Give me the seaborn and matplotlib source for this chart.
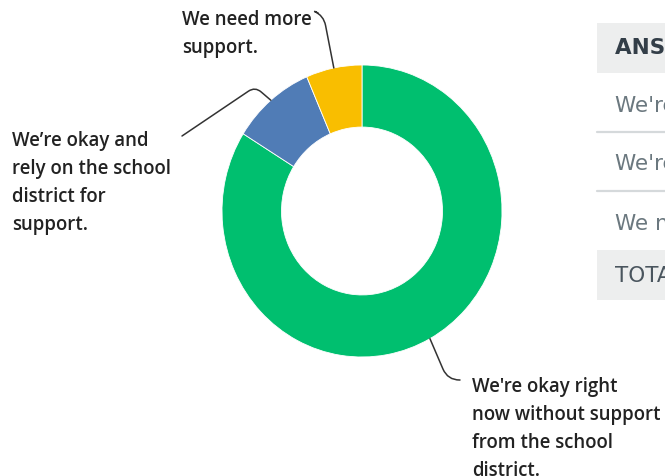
import matplotlib
matplotlib.use("Agg")
import matplotlib.pyplot as plt
from matplotlib.patches import Rectangle
from matplotlib.lines import Line2D
import numpy as np
import seaborn as sns

# ---- data ----
answers = [
    "We're okay right now without support from the school district.",
    "We're okay and rely on the school district for support.",
    "We need more support.",
]
labels = [
    "We're okay right\nnow without support\nfrom the school\ndistrict.",
    "We\u2019re okay and\nrely on the school\ndistrict for\nsupport.",
    "We need more\nsupport.",
]
shares = [83.87, 9.68, 6.45]
colors = ["#00BF6F", "#507CB6", "#F9BE00"]
header_text = "ANSWER CHOICES"
total_text = "TOTAL"

sns.set_theme(style="white")
plt.rcParams["font.family"] = ["DejaVu Sans"]

W, H = 665, 477
fig = plt.figure(figsize=(W / 100, H / 100), dpi=100)
fig.patch.set_facecolor("white")

def fx(px):
    return px / W

def fy(py):
    return 1 - py / H

# pie axes: outer ellipse spans x 222..502, y 66..358
ax = fig.add_axes([fx(222), fy(358), fx(280), 292 / H])
wedges, _ = ax.pie(
    shares, colors=colors, startangle=90, counterclock=False, radius=1,
    wedgeprops=dict(width=0.425, edgecolor="white", linewidth=0.6),
)
ax.set_xlim(-1, 1)
ax.set_ylim(-1, 1)
ax.set_aspect("auto")
ax.axis("off")

label_font = dict(family="Open Sans", weight="semibold", size=13.4, color="#222222")
# label anchors (left x, top y in pixels), leader-line end (pixels) and connection
label_pos = [(472, 377), (12, 131), (182, 10)]
line_end = [(460, 381), (182, 137), (318, 14)]
conn = [
    "angle,angleA=180,angleB=-66.8,rad=12",
    "angle,angleA=34,angleB=139.4,rad=8",
    "angle,angleA=-25,angleB=101,rad=10",
]

for w, lab, (lx, ly), (ex, ey), cs in zip(wedges, labels, label_pos, line_end, conn):
    mid = np.deg2rad((w.theta1 + w.theta2) / 2)
    ax.annotate(
        "", xy=(np.cos(mid), np.sin(mid)), xycoords="data",
        xytext=(fx(ex), fy(ey)), textcoords="figure fraction",
        arrowprops=dict(arrowstyle="-", color="#333333", lw=1.1,
                        shrinkA=0, shrinkB=0, connectionstyle=cs),
        annotation_clip=False,
    )
    fig.text(fx(lx), fy(ly), lab, ha="left", va="top", linespacing=1.53, **label_font)

# ---- partial table on the right ----
gray_bg = "#EDEEEE"
fig.patches.append(Rectangle((fx(597), fy(74)), fx(100), 50 / H,
                             transform=fig.transFigure, facecolor=gray_bg, edgecolor="none"))
fig.patches.append(Rectangle((fx(597), fy(301)), fx(100), 50 / H,
                             transform=fig.transFigure, facecolor=gray_bg, edgecolor="none"))
for yy in (133, 192):
    fig.lines.append(Line2D([fx(597), fx(700)], [fy(yy), fy(yy)],
                            transform=fig.transFigure, color="#D5D9DB", lw=1.6))

tfont = 15.5
fig.text(fx(615), fy(48), header_text, ha="left", va="center", fontsize=tfont,
         fontweight="bold", color="#333E48")
for txt, yy in zip(answers, (106, 164, 224)):
    fig.text(fx(615), fy(yy), txt, ha="left", va="center", fontsize=tfont, color="#6B787F")
fig.text(fx(615), fy(276), total_text, ha="left", va="center", fontsize=tfont, color="#4A555E")

fig.savefig("out.png", dpi=100)
